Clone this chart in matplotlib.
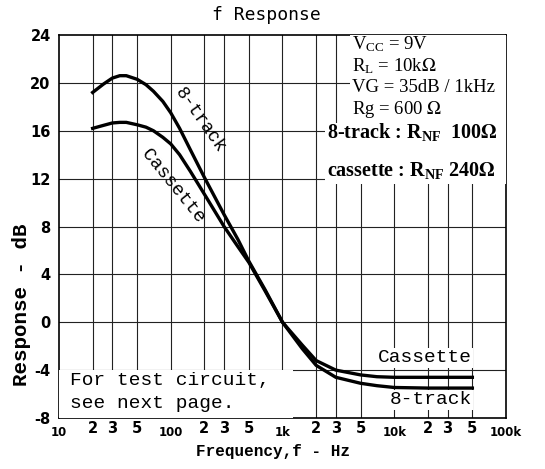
import matplotlib.pyplot as plt
from matplotlib.patches import Rectangle
from matplotlib.ticker import FixedLocator, FixedFormatter

plt.rcParams['mathtext.fontset'] = 'stix'

freq = [20, 25, 30, 35, 40, 50, 60, 70, 85, 100, 120, 150, 200, 300, 400, 500, 700,
        1000, 1500, 2000, 3000, 5000, 7000, 10000, 20000, 50000]
track8 = [19.2, 19.9, 20.4, 20.6, 20.6, 20.3, 19.85, 19.3, 18.45, 17.5, 16.2, 14.4, 12.1,
          9.0, 6.9, 5.1, 2.7, 0.0, -2.2, -3.6, -4.6, -5.1, -5.3, -5.45, -5.5, -5.5]
cassette = [16.2, 16.45, 16.65, 16.7, 16.7, 16.5, 16.3, 16.0, 15.45, 14.9, 14.0, 12.6, 10.7,
            8.0, 6.3, 5.0, 2.6, 0.0, -1.9, -3.2, -4.0, -4.4, -4.55, -4.6, -4.6, -4.6]

major_ticks = [10, 100, 1000, 10000, 100000]
major_labels = ['10', '100', '1k', '10k', '100k']
minor_ticks = [20, 30, 50, 200, 300, 500, 2000, 3000, 5000, 20000, 30000, 50000]
minor_labels = ['2', '3', '5'] * 4
y_ticks = list(range(-8, 25, 4))

conditions = [r'$\mathregular{V_{CC}}$ = 9V',
              r'$\mathregular{R_L}$ = 10k$\Omega$',
              'VG = 35dB / 1kHz',
              r'Rg = 600 $\Omega$']
settings = [r'8-track : $\mathregular{R_{NF}}$  100$\mathbf{\Omega}$',
            r'cassette : $\mathregular{R_{NF}}$ 240$\mathbf{\Omega}$']

fig = plt.figure(figsize=(5.45, 4.69), dpi=100)
ax = fig.add_axes([59 / 545, 1 - 418 / 469, 447 / 545, 383 / 469])

ax.set_xscale('log')
ax.set_xlim(10, 100000)
ax.set_ylim(-8, 24)

# grid
for f in minor_ticks + major_ticks[1:-1]:
    ax.axvline(f, color='#222222', lw=0.8, zorder=1)
for y in y_ticks[1:-1]:
    ax.axhline(y, color='#222222', lw=0.8, zorder=1)

ax.plot(freq, track8, color='black', lw=2.4, zorder=2)
ax.plot(freq, cassette, color='black', lw=2.4, zorder=2)

ax.xaxis.set_major_locator(FixedLocator(major_ticks))
ax.xaxis.set_major_formatter(FixedFormatter(major_labels))
ax.xaxis.set_minor_locator(FixedLocator(minor_ticks))
ax.xaxis.set_minor_formatter(FixedFormatter(minor_labels))
ax.set_yticks(y_ticks)
ax.set_yticklabels([str(v) for v in y_ticks])

ax.tick_params(axis='x', which='major', length=0, pad=6, labelsize=8.5)
ax.tick_params(axis='x', which='minor', length=0, pad=2, labelsize=10.5)
ax.tick_params(axis='y', length=0, pad=6, labelsize=10.5)
for lab in ax.get_xticklabels(which='both') + ax.get_yticklabels():
    lab.set_fontweight('bold')
    lab.set_family('DejaVu Sans')

for s in ax.spines.values():
    s.set_linewidth(1.2)

# white areas
ax.add_patch(Rectangle((0.65, 0.76), 0.35, 0.24, transform=ax.transAxes,
                       facecolor='white', edgecolor='none', zorder=3))
ax.add_patch(Rectangle((0.595, 0.61), 0.405, 0.16, transform=ax.transAxes,
                       facecolor='white', edgecolor='none', zorder=3))
ax.add_patch(Rectangle((0.0, 0.0), 0.523, 0.125, transform=ax.transAxes,
                       facecolor='white', edgecolor='none', zorder=3))

for i, t in enumerate(conditions):
    ax.text(0.655, 0.976 - i * 0.057, t, transform=ax.transAxes, ha='left', va='center',
            family='Liberation Serif', fontsize=13.5, zorder=4)
for t, y in zip(settings, [0.747, 0.645]):
    ax.text(0.600, y, t, transform=ax.transAxes, ha='left', va='center',
            family='Liberation Serif', fontweight='bold', fontsize=14.5, zorder=4)

mono = 'Liberation Mono'
ax.text(0.025, 0.097, 'For test circuit,', transform=ax.transAxes, ha='left', va='center',
        family=mono, fontsize=14, zorder=4)
ax.text(0.025, 0.037, 'see next page.', transform=ax.transAxes, ha='left', va='center',
        family=mono, fontsize=14, zorder=4)

ax.text(0.924, 0.157, 'Cassette', transform=ax.transAxes, ha='right', va='center',
        family=mono, fontsize=14, zorder=4,
        bbox=dict(facecolor='white', edgecolor='none', pad=1))
ax.text(0.924, 0.047, '8-track', transform=ax.transAxes, ha='right', va='center',
        family=mono, fontsize=14, zorder=4,
        bbox=dict(facecolor='white', edgecolor='none', pad=1))

# curve labels placed at data positions beside the curves
ax.text(182, 16.9, '8-track', ha='center', va='center',
        rotation=-55, rotation_mode='anchor', family=mono, fontsize=13, zorder=4)
ax.text(104, 11.4, 'Cassette', ha='center', va='center',
        rotation=-51, rotation_mode='anchor', family=mono, fontsize=13.5, zorder=4)

fig.text(266 / 545, 1 - 15 / 469, 'f Response', ha='center', va='center',
         family='DejaVu Sans Mono', fontsize=13)
fig.text(22 / 545, 1 - 305 / 469, 'Response - dB', ha='center', va='center',
         rotation=90, family=mono, fontweight='bold', fontsize=15)
fig.text(273 / 545, 1 - 451 / 469, 'Frequency,f - Hz', ha='center', va='center',
         family=mono, fontweight='bold', fontsize=11.5)

fig.savefig('out.png', dpi=100)
